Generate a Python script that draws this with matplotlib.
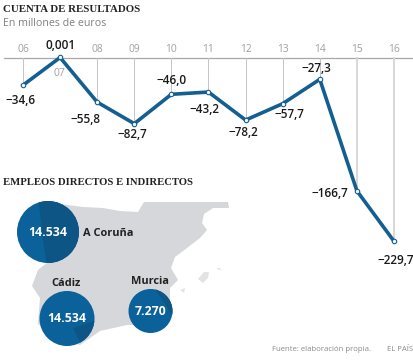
# -*- coding: utf-8 -*-
import matplotlib
matplotlib.use("Agg")
import matplotlib.pyplot as plt
from matplotlib.patches import Circle, Polygon

years = ["06", "07", "08", "09", "10", "11", "12", "13", "14", "15", "16"]
results = [-34.6, 0.001, -55.8, -82.7, -46.0, -43.2, -78.2, -57.7, -27.3, -166.7, -229.7]
result_labels = ["−34,6", "0,001", "−55,8", "−82,7", "−46,0", "−43,2", "−78,2", "−57,7", "−27,3", "−166,7", "−229,7"]

cities = ["A Coruña", "Cádiz", "Murcia"]
jobs = ["14.534", "14.534", "7.270"]

# label offsets in pixels, from each point
label_off = [(-2, -15), (0, 12), (-12, -17), (-2, -11), (0, 14), (-4, -17), (-2, -12), (7, -11), (-3, 11), (-27, -3), (2, -19)]

# map shapes traced by hand, pixels of the image
spain = [(38, 207), (60, 204), (83, 207), (103, 208), (120, 211), (138, 212), (144, 202), (228, 202),
         (229, 208), (213, 208), (204, 214), (202, 223), (207, 230), (200, 238), (187, 248), (175, 257),
         (171, 268), (178, 280), (170, 288), (170, 300), (160, 325), (127, 325), (100, 331), (80, 345),
         (60, 340), (38, 324), (40, 298), (32, 286), (38, 270), (48, 262), (44, 240)]
mallorca = [(198, 279), (204, 272), (209, 272), (208, 278), (203, 283)]
menorca = [(216, 268), (220, 268), (222, 271)]
ibiza = [(180, 290), (185, 288), (184, 293)]

circle_x = [48, 67, 150.5]
circle_y = [232, 318.5, 311]
circle_r = [31, 27.5, 22]

# darker part of each circle, where the map shows through
shades = [[(38, 195), (85, 195), (85, 270), (48, 270), (43, 240)],
          [(73, 328), (98, 320), (98, 350), (84, 350)],
          [(152, 285), (176, 285), (176, 322), (166, 305)]]

blue = "#135f92"
map_c = "#d5d7da"

plt.rcParams["font.family"] = ["Open Sans", "DejaVu Sans"]

fig = plt.figure(figsize=(4.14, 3.6), dpi=100)

# map layer, pixel coordinates
ax_map = fig.add_axes([0, 0, 1, 1])
ax_map.set_xlim(0, 414)
ax_map.set_ylim(360, 0)
ax_map.axis("off")
ax_map.add_patch(Polygon(spain, closed=True, fc=map_c, ec="none", zorder=1))
for isl in [mallorca, menorca, ibiza]:
    ax_map.add_patch(Polygon(isl, closed=True, fc="#e2e3e5", ec="none", zorder=1))
for i in range(3):
    circ = Circle((circle_x[i], circle_y[i]), circle_r[i], fc="#0b6199", ec="none", zorder=2)
    ax_map.add_patch(circ)
    dark = Polygon(shades[i], closed=True, fc="#0c5585", ec="none", zorder=3)
    ax_map.add_patch(dark)
    dark.set_clip_path(circ)
    ax_map.text(circle_x[i], circle_y[i] + 0.5, jobs[i], color="white", fontsize=8.8, fontweight="bold",
                ha="center", va="center", zorder=4)
ax_map.text(83, 234, cities[0], fontsize=7.9, fontweight="bold", color="#222222", va="center", zorder=4)
ax_map.text(66, 283, cities[1], fontsize=7.9, fontweight="bold", color="#222222", ha="center", va="center", zorder=4)
ax_map.text(150.5, 281, cities[2], fontsize=7.9, fontweight="bold", color="#222222", ha="center", va="center", zorder=4)

# line chart
ax = fig.add_axes([0, 0, 1, 1], facecolor="none")
x = list(range(len(years)))
ax.set_xlim(-23 / 37.1, (414 - 23) / 37.1)
ax.set_ylim(-(360 - 57.5) / 0.8, 57.5 / 0.8)
ax.axis("off")

ax.plot([-19 / 37.1, 389 / 37.1], [0, 0], color="#a8a8a8", lw=0.9, zorder=1)
for i in x:
    if years[i] == "07":
        ax.annotate(years[i], (i, 0), xytext=(-1, -16), textcoords="offset pixels", ha="center", va="center",
                    fontsize=7.4, color="#a0a0a0")
        continue
    grid_c = "#d6d6d6" if i >= 9 else "#c4c4c4"
    ax.plot([i, i], [0, results[i]], color=grid_c, lw=1.3 if i >= 9 else 0.7, zorder=1)
    ax.annotate(years[i], (i, 0), xytext=(0, 8.5), textcoords="offset pixels", ha="center", va="center",
                fontsize=7.4, color="#a0a0a0")

ax.plot(x, results, color=blue, lw=2.6, solid_joinstyle="miter", zorder=3)
ax.plot(x, results, ls="none", marker="o", ms=3.2, mfc="white", mec=blue, mew=0.8, zorder=4)

for i in x:
    ax.annotate(result_labels[i], (i, results[i]), xytext=label_off[i], textcoords="offset pixels",
                ha="center", va="center", fontsize=8.5, fontweight="semibold", color="#1a1a1a", zorder=5)

# texts
fig.text(3 / 414, 1 - 10 / 360, "CUENTA DE RESULTADOS", family="Liberation Serif", fontweight="bold",
         fontsize=7.8, color="#222222", va="center")
fig.text(3 / 414, 1 - 24 / 360, "En millones de euros", fontsize=7.7, color="#808080", va="center")
fig.text(3 / 414, 1 - 182.5 / 360, "EMPLEOS DIRECTOS E INDIRECTOS", family="Liberation Serif", fontweight="bold",
         fontsize=7.7, color="#222222", va="center")
fig.text(272 / 414, 1 - 349.5 / 360, "Fuente: elaboración propia.", fontsize=5.6, color="#8a8a8a", va="center")
fig.text(413 / 414, 1 - 349.5 / 360, "EL PAÍS", fontsize=5.6, color="#8a8a8a", va="center", ha="right")

fig.savefig("out.png", dpi=100)
